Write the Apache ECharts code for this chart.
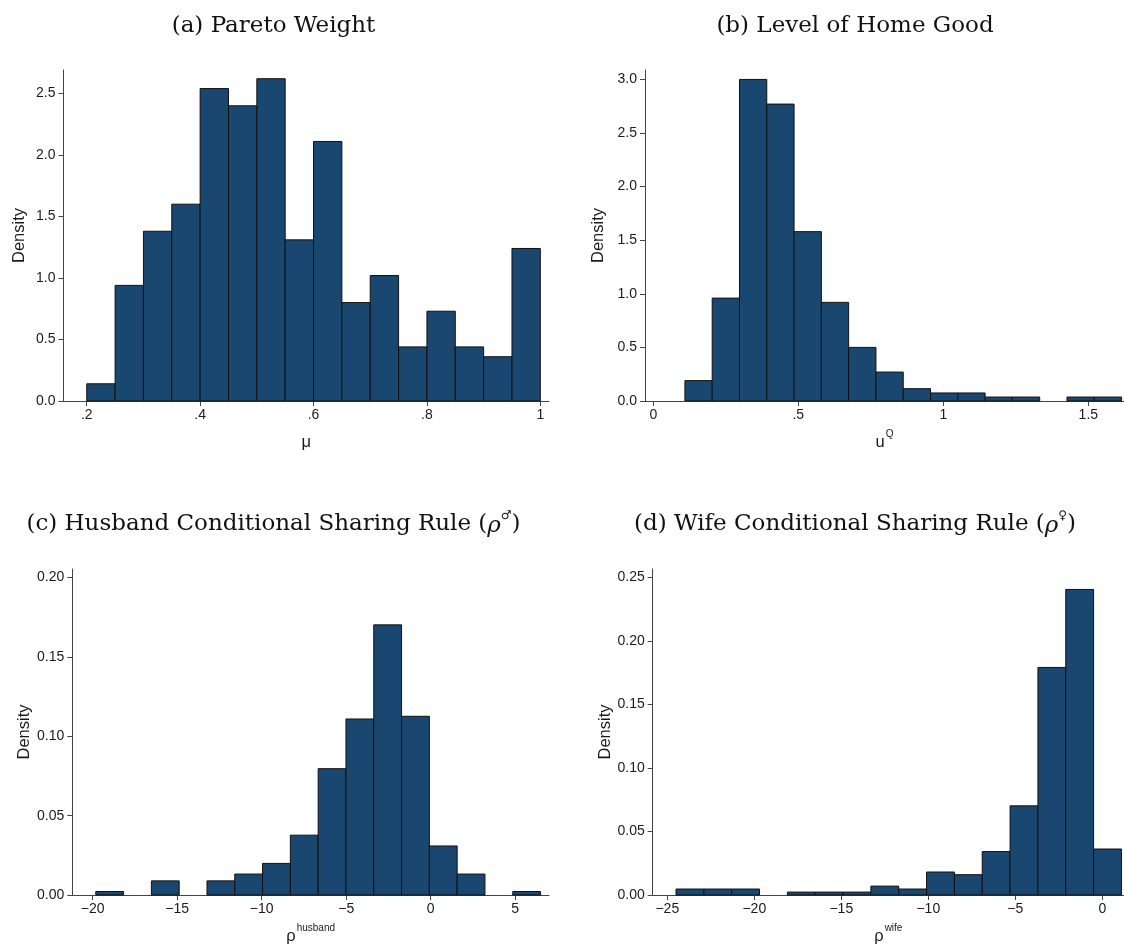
<!DOCTYPE html>
<html>
<head>
<meta charset="utf-8">
<title>Distributions of estimated household parameters</title>
<script src="https://cdn.jsdelivr.net/npm/echarts@6/dist/echarts.min.js"></script>
<style>
  html, body { margin: 0; padding: 0; background: #ffffff; }
  #chart { width: 1124px; height: 946px; }
</style>
</head>
<body>
<div id="chart"></div>
<script>
// ---- (a) Pareto weight mu ----
const muEdges = [0.20, 0.25, 0.30, 0.35, 0.40, 0.45, 0.50, 0.55, 0.60, 0.65, 0.70, 0.75, 0.80, 0.85, 0.90, 0.95, 1.00];
const muDensity = [0.14, 0.94, 1.38, 1.60, 2.54, 2.40, 2.62, 1.31, 2.11, 0.80, 1.02, 0.44, 0.73, 0.44, 0.36, 1.24];
const muTicks = [0.2, 0.4, 0.6, 0.8, 1];
const muTickLabels = ['.2', '.4', '.6', '.8', '1'];
const muYTicks = [0, 0.5, 1, 1.5, 2, 2.5];

// ---- (b) Level of home good u^Q ----
const uqEdges = [0.109, 0.2031, 0.2972, 0.3913, 0.4854, 0.5795, 0.6736, 0.7677, 0.8618, 0.9559, 1.0500, 1.1441, 1.2382, 1.3323, 1.4264, 1.5205, 1.6146];
const uqDensity = [0.19, 0.96, 3.00, 2.77, 1.58, 0.92, 0.50, 0.27, 0.115, 0.075, 0.075, 0.037, 0.037, 0, 0.037, 0.037];
const uqTicks = [0, 0.5, 1, 1.5];
const uqTickLabels = ['0', '.5', '1', '1.5'];
const uqYTicks = [0, 0.5, 1, 1.5, 2, 2.5, 3];

// ---- (c) Husband conditional sharing rule ----
const rhoHEdges = [-19.82, -18.175, -16.53, -14.885, -13.24, -11.595, -9.95, -8.305, -6.66, -5.015, -3.37, -1.725, -0.08, 1.565, 3.21, 4.855, 6.50];
const rhoHDensity = [0.0022, 0, 0.0089, 0, 0.0089, 0.0132, 0.0199, 0.0377, 0.0796, 0.1109, 0.1702, 0.1126, 0.0309, 0.0132, 0, 0.0022];
const rhoHTicks = [-20, -15, -10, -5, 0, 5];
const rhoHTickLabels = ['\u221220', '\u221215', '\u221210', '\u22125', '0', '5'];
const rhoHYTicks = [0, 0.05, 0.10, 0.15, 0.20];

// ---- (d) Wife conditional sharing rule ----
const rhoWEdges = [-24.5, -22.9, -21.3, -19.7, -18.1, -16.5, -14.9, -13.3, -11.7, -10.1, -8.5, -6.9, -5.3, -3.7, -2.1, -0.5, 1.1];
const rhoWDensity = [0.0047, 0.0047, 0.0047, 0, 0.0023, 0.0023, 0.0023, 0.0070, 0.0047, 0.0181, 0.0160, 0.0342, 0.0702, 0.1792, 0.2406, 0.0362];
const rhoWTicks = [-25, -20, -15, -10, -5, 0];
const rhoWTickLabels = ['\u221225', '\u221220', '\u221215', '\u221210', '\u22125', '0'];
const rhoWYTicks = [0, 0.05, 0.10, 0.15, 0.20, 0.25];

const NAVY = '#1a476f';
const OUTLINE = '#111111';
const AXIS = '#444444';
const TEXT = '#1a1a1a';
const SANS = '"Liberation Sans", Arial, Helvetica, sans-serif';
const SERIF = '"DejaVu Serif", "Liberation Serif", serif';

// panel frames in pixels: [left, top, width, height]
const frames = [
  [63.5, 70, 485.5, 331],
  [645, 70, 479, 331],
  [72.3, 569, 476.7, 330.3],
  [652.7, 569, 471.3, 330.3]
];

// x extents and y maxima for each panel
const xRanges = [[0.159, 1.0153], [-0.0286, 1.623], [-21.21, 7.0], [-25.84, 1.247]];
const yMaxes = [2.691, 3.088, 0.2054, 0.2567];

function bins(edges, dens) {
  const out = [];
  for (let i = 0; i < dens.length; i++) {
    if (dens[i] > 0) out.push([edges[i], edges[i + 1], dens[i]]);
  }
  return out;
}

function labelFor(ticks, labels) {
  return function (v) {
    let best = 0, d = Infinity;
    for (let i = 0; i < ticks.length; i++) {
      const dd = Math.abs(ticks[i] - v);
      if (dd < d) { d = dd; best = i; }
    }
    return labels[best];
  };
}

const xNames = [
  '{m|\u03bc}',
  '{m|u}{s|Q}',
  '{m|\u03c1}{s|husband}',
  '{m|\u03c1}{s|wife}'
];
const xNameRich = {
  m: { fontFamily: SANS, fontSize: 16.5, color: TEXT, lineHeight: 22, verticalAlign: 'bottom' },
  s: { fontFamily: SANS, fontSize: 10, color: TEXT, lineHeight: 12, verticalAlign: 'top', padding: [0, 0, 0, 1] }
};

const xTicks = [muTicks, uqTicks, rhoHTicks, rhoWTicks];
const xTickLabels = [muTickLabels, uqTickLabels, rhoHTickLabels, rhoWTickLabels];
const yTicks = [muYTicks, uqYTicks, rhoHYTicks, rhoWYTicks];
const yDecimals = [1, 1, 2, 2];
const seriesData = [
  bins(muEdges, muDensity),
  bins(uqEdges, uqDensity),
  bins(rhoHEdges, rhoHDensity),
  bins(rhoWEdges, rhoWDensity)
];

const titles = [
  { text: '(a) Pareto Weight', cx: 273.5, top: 12 },
  { text: '(b) Level of Home Good', cx: 855, top: 12 },
  { text: '(c) Husband Conditional Sharing Rule ({i|\u03c1}{s|\u2642})', cx: 273.5, top: 510 },
  { text: '(d) Wife Conditional Sharing Rule ({i|\u03c1}{s|\u2640})', cx: 855, top: 510 }
];

const option = {
  backgroundColor: '#ffffff',
  animation: false,
  title: titles.map(t => ({
    text: t.text,
    left: t.cx,
    top: t.top,
    textAlign: 'center',
    padding: 0,
    textStyle: {
      fontFamily: SERIF,
      fontSize: 23,
      fontWeight: 'normal',
      color: '#111111',
      lineHeight: 28,
      rich: {
        i: { fontFamily: SERIF, fontStyle: 'italic', fontSize: 23, color: '#111111', lineHeight: 28, verticalAlign: 'bottom' },
        s: { fontFamily: '"DejaVu Sans", sans-serif', fontSize: 12, color: '#111111', lineHeight: 14, verticalAlign: 'top' }
      }
    }
  })),
  grid: frames.map(f => ({ left: f[0], top: f[1], width: f[2], height: f[3], containLabel: false })),
  xAxis: frames.map((f, i) => ({
    type: 'value',
    gridIndex: i,
    min: xRanges[i][0],
    max: xRanges[i][1],
    name: xNames[i],
    nameLocation: 'middle',
    nameGap: 28,
    nameTextStyle: { rich: xNameRich },
    axisLine: { show: true, onZero: false, lineStyle: { color: AXIS, width: 1 } },
    axisTick: { show: true, inside: false, length: 5, customValues: xTicks[i], lineStyle: { color: AXIS, width: 1 } },
    axisLabel: {
      show: true,
      customValues: xTicks[i],
      formatter: labelFor(xTicks[i], xTickLabels[i]),
      margin: 7,
      fontFamily: SANS,
      fontSize: 14,
      color: TEXT
    },
    splitLine: { show: false }
  })),
  yAxis: frames.map((f, i) => ({
    type: 'value',
    gridIndex: i,
    min: 0,
    max: yMaxes[i],
    name: 'Density',
    nameLocation: 'middle',
    nameRotate: 90,
    nameGap: i % 2 === 0 ? 36 : 38,
    nameTextStyle: { fontFamily: SANS, fontSize: 16.5, color: TEXT },
    axisLine: { show: true, onZero: false, lineStyle: { color: AXIS, width: 1 } },
    axisTick: { show: true, inside: false, length: 5, customValues: yTicks[i], lineStyle: { color: AXIS, width: 1 } },
    axisLabel: {
      show: true,
      customValues: yTicks[i],
      formatter: (v) => v.toFixed(yDecimals[i]),
      margin: 8,
      fontFamily: SANS,
      fontSize: 14,
      color: TEXT
    },
    splitLine: { show: false }
  })),
  series: seriesData.map((data, i) => ({
    type: 'custom',
    xAxisIndex: i,
    yAxisIndex: i,
    data: data,
    encode: { x: [0, 1], y: 2 },
    renderItem: function (params, api) {
      const base = api.coord([api.value(0), 0]);
      const top = api.coord([api.value(1), api.value(2)]);
      return {
        type: 'rect',
        shape: { x: base[0], y: top[1], width: top[0] - base[0], height: base[1] - top[1] },
        style: { fill: NAVY, stroke: OUTLINE, lineWidth: 1 }
      };
    }
  }))
};

const chart = echarts.init(document.getElementById('chart'), null, { renderer: 'canvas' });
chart.setOption(option);
</script>
</body>
</html>
